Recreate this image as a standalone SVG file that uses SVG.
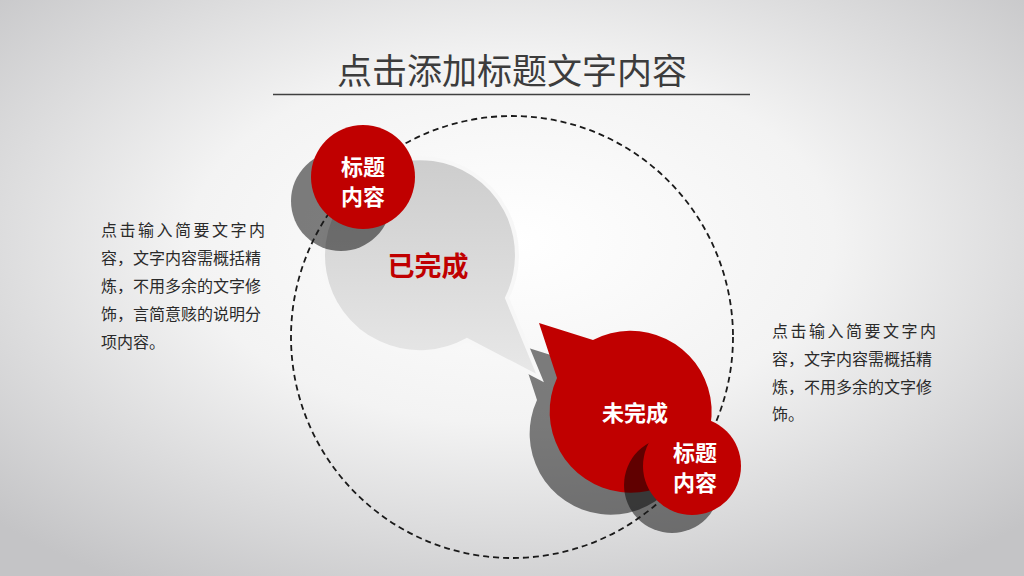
<svg xmlns="http://www.w3.org/2000/svg" width="1024" height="576" viewBox="0 0 1024 576">
  <defs>
    <radialGradient id="bg" cx="50%" cy="42%" r="70%">
      <stop offset="0" stop-color="#ffffff"/>
      <stop offset="0.45" stop-color="#f3f3f3"/>
      <stop offset="1" stop-color="#c4c4c6"/>
    </radialGradient>
    <linearGradient id="bubble" x1="0" y1="0" x2="0" y2="1">
      <stop offset="0" stop-color="#cdcdcd"/>
      <stop offset="1" stop-color="#e8e8e8"/>
    </linearGradient>
    <style>
      .title{font-family:"Noto Sans CJK SC","Noto Sans",sans-serif;font-size:35px;fill:#3c3c3c;text-anchor:middle}
      .body{font-family:"Noto Sans CJK SC","Noto Sans",sans-serif;font-size:16px;fill:#2a2a2a}
      .wt{font-family:"Noto Sans CJK SC","Noto Sans",sans-serif;font-weight:bold;fill:#ffffff;text-anchor:middle}
      .red{fill:#c00000}
      .shadow{fill:#000000;fill-opacity:0.5}
    </style>
  </defs>
  <rect width="1024" height="576" fill="url(#bg)"/>

  <g id="title">
    <text class="title" x="512" y="84">点击添加标题文字内容</text>
    <line x1="273" y1="94.5" x2="750" y2="94.5" stroke="#404040" stroke-width="1.5"/>
  </g>

  <g id="red-bubble-shadow">
    <path class="shadow" transform="translate(-20,22)" d="M 593 340 L 539 323 L 557 378 A 81 81 0 1 0 593 340 Z"/>
  </g>

  <g id="done-bubble">
    <path d="M 507 298 L 540 378 L 467 340 A 97 97 0 1 1 507 298 Z" fill="url(#bubble)" stroke="#f7f7f7" stroke-width="4" stroke-linejoin="miter"/>
    <text x="428" y="276" font-family="'Noto Sans CJK SC','Noto Sans',sans-serif" font-size="27" font-weight="bold" fill="#c00000" text-anchor="middle">已完成</text>
  </g>

  <g id="top-shadow">
    <circle class="shadow" cx="341" cy="201" r="50"/>
  </g>

  <g id="undone-bubble">
    <path class="red" d="M 593 340 L 539 323 L 557 378 A 81 81 0 1 0 593 340 Z"/>
    <text class="wt" x="635" y="421" font-size="22">未完成</text>
  </g>

  <g id="bottom-shadow">
    <circle class="shadow" cx="672" cy="485" r="48"/>
  </g>

  <g id="connectors">
    <circle cx="512" cy="337" r="221" fill="none" stroke="#1a1a1a" stroke-width="1.8" stroke-dasharray="6 4"/>
  </g>

  <g id="top-title-circle">
    <circle class="red" cx="363" cy="177" r="52"/>
    <text class="wt" x="363" y="175" font-size="22">标题</text>
    <text class="wt" x="363" y="205" font-size="22">内容</text>
  </g>

  <g id="bottom-title-circle">
    <circle class="red" cx="692" cy="466" r="49"/>
    <text class="wt" x="695" y="461" font-size="22">标题</text>
    <text class="wt" x="695" y="491" font-size="22">内容</text>
  </g>

  <g id="left-text">
    <text class="body" x="101" y="236" textLength="164" lengthAdjust="spacing">点击输入简要文字内</text>
    <text class="body" x="101" y="264">容，文字内容需概括精</text>
    <text class="body" x="101" y="292">炼，不用多余的文字修</text>
    <text class="body" x="101" y="320">饰，言简意赅的说明分</text>
    <text class="body" x="101" y="348">项内容。</text>
  </g>

  <g id="right-text">
    <text class="body" x="772" y="337" textLength="164" lengthAdjust="spacing">点击输入简要文字内</text>
    <text class="body" x="772" y="365">容，文字内容需概括精</text>
    <text class="body" x="772" y="393">炼，不用多余的文字修</text>
    <text class="body" x="772" y="420">饰。</text>
  </g>
</svg>
